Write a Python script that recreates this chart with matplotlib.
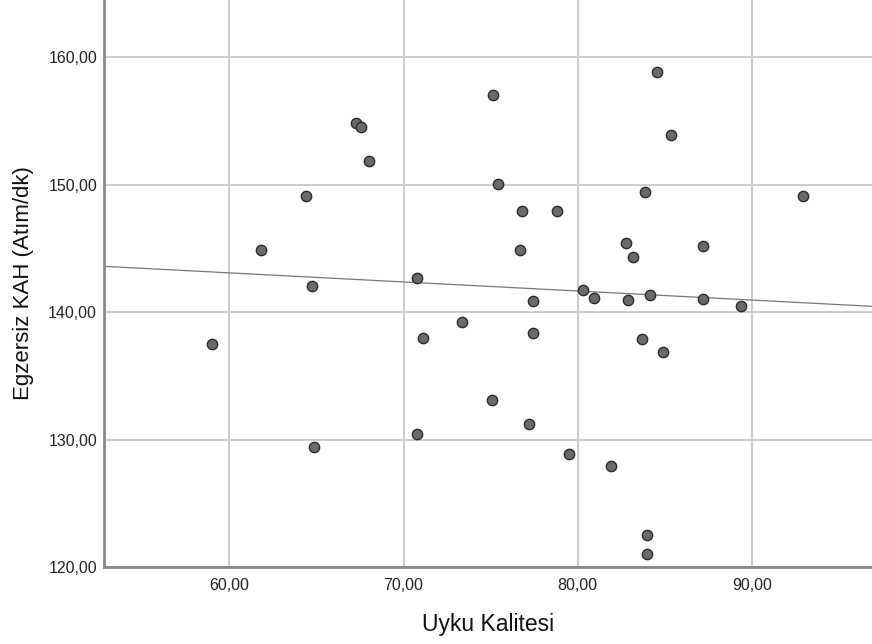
import numpy as np
import matplotlib
matplotlib.use("Agg")
import matplotlib.pyplot as plt
from matplotlib.ticker import FuncFormatter

plt.rcParams['font.family'] = ['Liberation Sans', 'DejaVu Sans']

uyku = [58.99, 61.81, 64.40, 64.74, 64.86, 67.27, 67.56, 68.02, 70.75, 71.12,
        73.36, 77.44, 75.09, 77.21, 70.75, 79.50, 75.14, 75.43, 76.81, 78.82,
        76.70, 77.44, 80.32, 80.95, 84.57, 85.37, 83.88, 92.96, 82.79, 83.19,
        87.21, 82.90, 84.17, 87.21, 89.40, 83.71, 84.92, 81.93, 83.99, 83.99]
kah = [137.49, 144.86, 149.14, 142.04, 129.45, 154.86, 154.55, 151.88, 142.67, 137.96,
       139.20, 138.35, 133.14, 131.25, 130.40, 128.86, 157.02, 150.08, 147.96, 147.96,
       144.86, 140.86, 141.73, 141.10, 158.82, 153.88, 149.45, 149.14, 145.41, 144.31,
       145.18, 140.94, 141.33, 141.02, 140.47, 137.88, 136.86, 127.92, 122.51, 121.02]

x_ticks = [60, 70, 80, 90]
y_ticks = [120, 130, 140, 150, 160]
x_label = "Uyku Kalitesi"
y_label = "Egzersiz KAH (Atım/dk)"

fig = plt.figure(figsize=(8.72, 6.44), dpi=100)
ax = fig.add_axes([104/872, 1 - 567/644, 1 - 104/872, 567/644])

xlim = (52.8, 96.9)
ylim = (120, 164.5)
ax.set_xlim(*xlim)
ax.set_ylim(*ylim)

ax.set_xticks(x_ticks)
ax.set_yticks(y_ticks)
fmt = FuncFormatter(lambda v, p: f"{v:.2f}".replace('.', ','))
ax.xaxis.set_major_formatter(fmt)
ax.yaxis.set_major_formatter(fmt)
ax.tick_params(length=0, labelsize=11.5, colors='#222222')
ax.tick_params(axis='x', pad=8)
ax.tick_params(axis='y', pad=5)

ax.grid(True, color='#cccccc', linewidth=1.4)
ax.set_axisbelow(True)
for s in ['top', 'right']:
    ax.spines[s].set_visible(False)
for s in ['left', 'bottom']:
    ax.spines[s].set_color('#888888')
    ax.spines[s].set_linewidth(2)

# regression fit line
coef = np.polyfit(uyku, kah, 1)
xs = np.array(xlim)
ax.plot(xs, np.polyval(coef, xs), color='#777777', linewidth=0.9, zorder=2)

ax.scatter(uyku, kah, s=55, facecolor='#6b6b6b', edgecolor='#2a2a2a', linewidth=1.0, zorder=3)

ax.set_xlabel(x_label, fontsize=16.5, labelpad=14, color='#111111')
ax.set_ylabel(y_label, fontsize=16, labelpad=10, color='#111111')

fig.savefig("out.png", dpi=100)
